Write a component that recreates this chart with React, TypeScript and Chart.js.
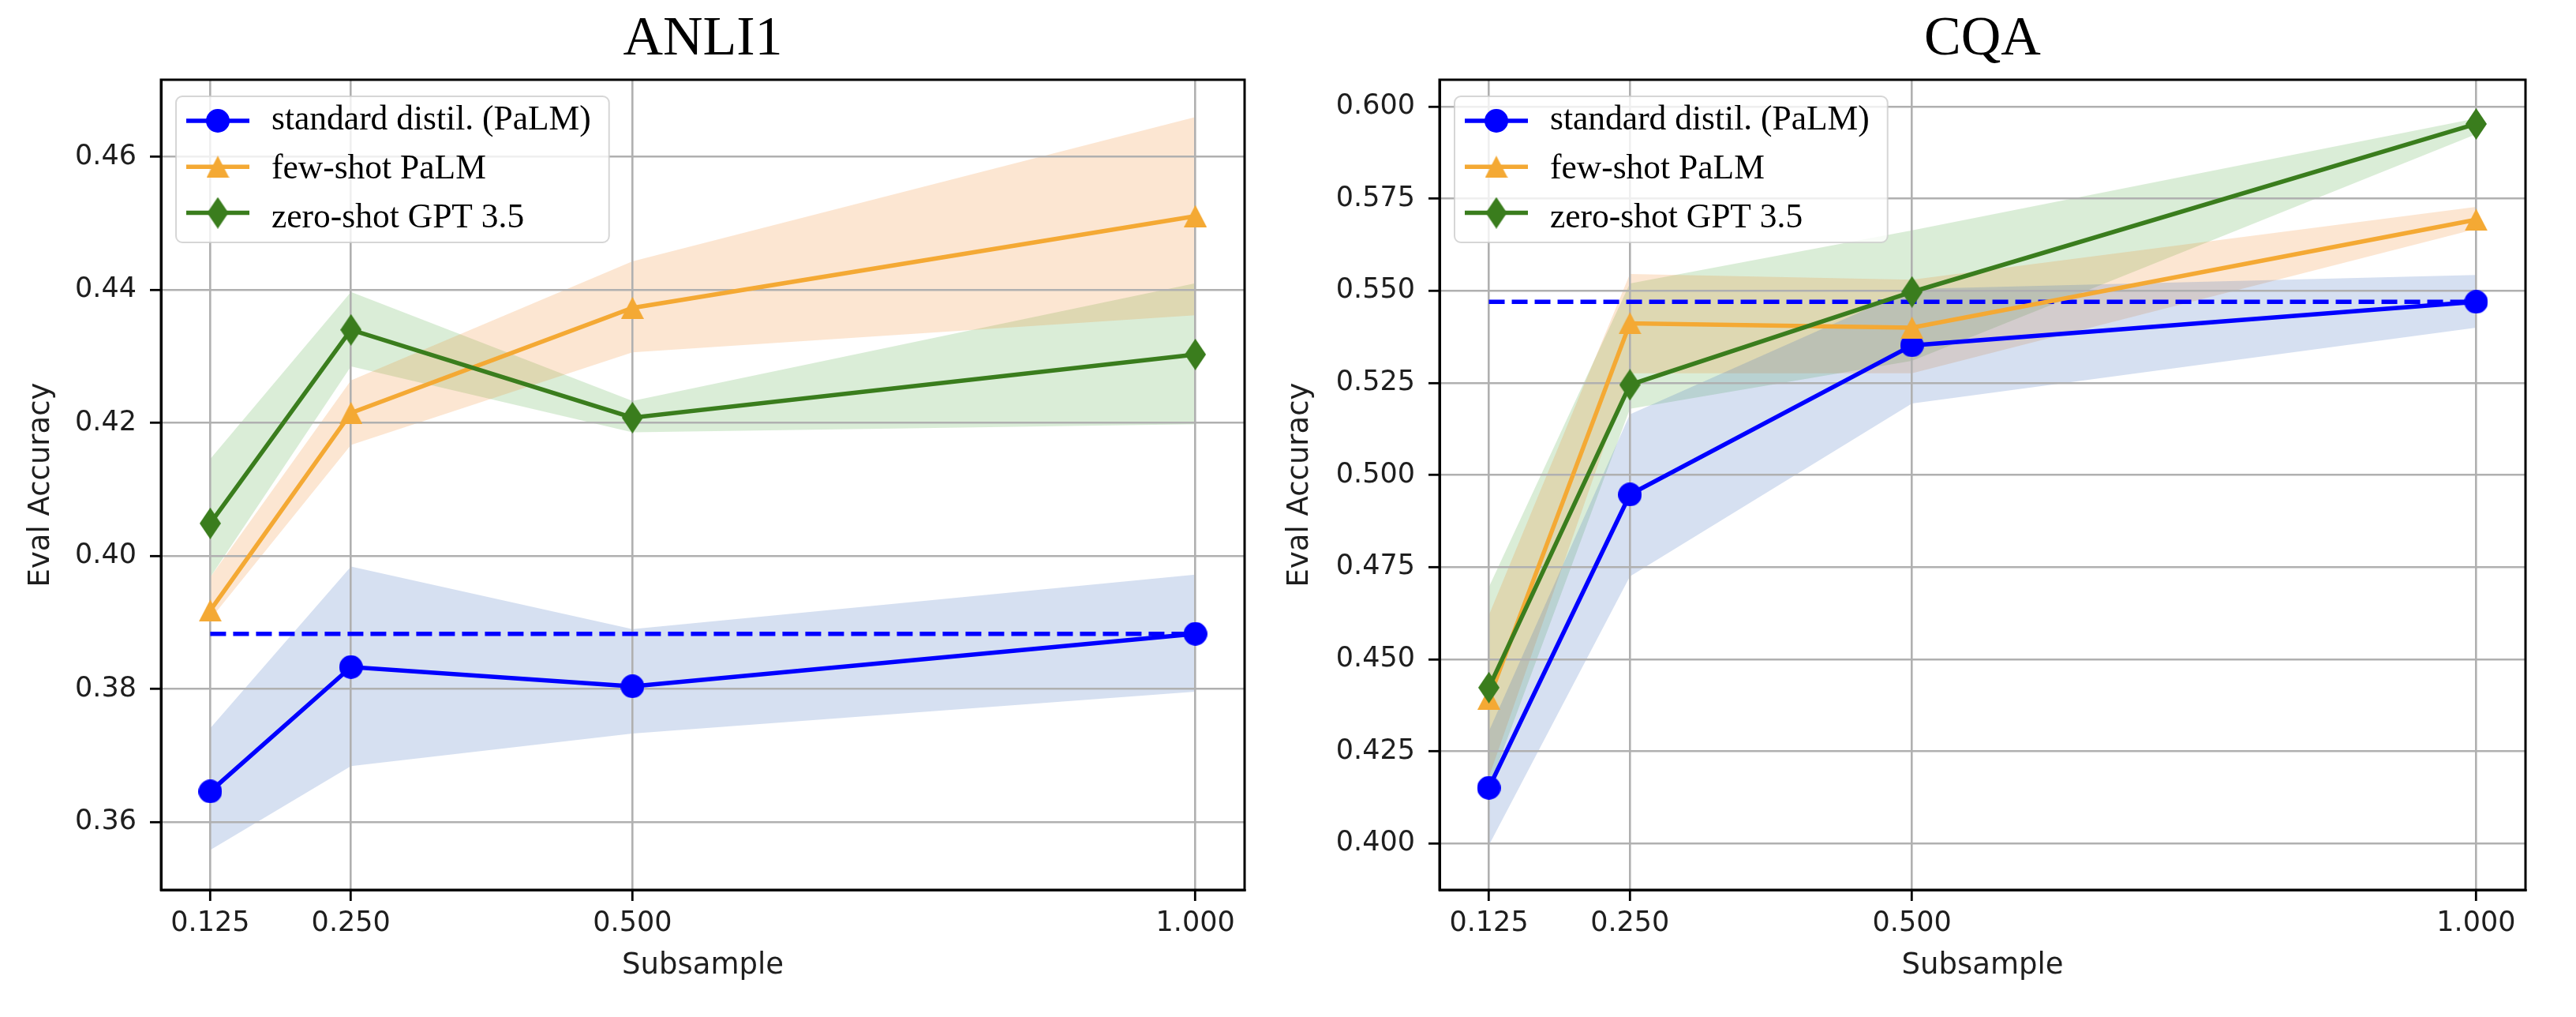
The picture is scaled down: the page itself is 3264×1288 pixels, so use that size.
import React, { useEffect, useRef } from 'react';
import { Chart, registerables } from 'chart.js';

Chart.register(...registerables);

// x positions shared by both panels
const subsample = [0.125, 0.25, 0.5, 1.0];
const xTicks = [0.125, 0.25, 0.5, 1.0];

// ANLI1
const anliStandard = [0.3646, 0.3833, 0.3804, 0.3883];
const anliStandardLo = [0.3558, 0.3684, 0.3733, 0.3796];
const anliStandardHi = [0.3741, 0.3984, 0.389, 0.3972];
const anliFewShot = [0.3918, 0.4215, 0.4373, 0.4511];
const anliFewShotLo = [0.3905, 0.4167, 0.4306, 0.4362];
const anliFewShotHi = [0.3968, 0.4264, 0.4443, 0.466];
const anliZeroShot = [0.4049, 0.434, 0.4208, 0.4303];
const anliZeroShotLo = [0.3968, 0.4285, 0.4186, 0.4198];
const anliZeroShotHi = [0.4146, 0.4397, 0.4233, 0.441];
const anliReference = 0.3883;
const anliYTicks = [0.36, 0.38, 0.4, 0.42, 0.44, 0.46];

// CQA
const cqaStandard = [0.4151, 0.4947, 0.5352, 0.547];
const cqaStandardLo = [0.3995, 0.4725, 0.5194, 0.54];
const cqaStandardHi = [0.4305, 0.5165, 0.5505, 0.5543];
const cqaFewShot = [0.4393, 0.5412, 0.54, 0.5693];
const cqaFewShotLo = [0.418, 0.5276, 0.5276, 0.5668];
const cqaFewShotHi = [0.462, 0.5546, 0.553, 0.5728];
const cqaZeroShot = [0.4423, 0.5245, 0.5497, 0.5953];
const cqaZeroShotLo = [0.415, 0.518, 0.531, 0.5925];
const cqaZeroShotHi = [0.4696, 0.552, 0.5664, 0.5968];
const cqaReference = 0.547;
const cqaYTicks = [0.4, 0.425, 0.45, 0.475, 0.5, 0.525, 0.55, 0.575, 0.6];

const labels = ['standard distil. (PaLM)', 'few-shot PaLM', 'zero-shot GPT 3.5'];

const BLUE = '#0000ff';
const ORANGE = '#f4a934';
const GREEN = '#3a7d1d';
const TEXT = '#1e1e1e';
const LINE_W = 5.5;

function makeMarker(kind: string, color: string) {
   const c = document.createElement('canvas');
   const w = kind === 'circle' ? 30 : kind === 'triangle' ? 29 : 27;
   const h = kind === 'circle' ? 30 : kind === 'triangle' ? 28 : 40;
   c.width = w;
   c.height = h;
   const g = c.getContext('2d')!;
   g.fillStyle = color;
   g.beginPath();
   if (kind === 'circle') {
      g.arc(w / 2, h / 2, w / 2, 0, Math.PI * 2);
   } else if (kind === 'triangle') {
      g.moveTo(w / 2, 0);
      g.lineTo(w, h);
      g.lineTo(0, h);
   } else {
      g.moveTo(w / 2, 0);
      g.lineTo(w, h / 2);
      g.lineTo(w / 2, h);
      g.lineTo(0, h / 2);
   }
   g.closePath();
   g.fill();
   return c;
}

const circleImg = makeMarker('circle', BLUE);
const triangleImg = makeMarker('triangle', ORANGE);
const diamondImg = makeMarker('diamond', GREEN);

const pts = (ys: number[]) => subsample.map((x, i) => ({ x, y: ys[i] }));

// spines on all four sides + matplotlib-like legend inside the axes
const frameLegend = {
   id: 'frameLegend',
   afterDatasetsDraw(chart: any) {
      const { ctx, chartArea: ca } = chart;
      ctx.save();
      ctx.strokeStyle = '#000';
      ctx.lineWidth = 3;
      ctx.setLineDash([]);
      ctx.strokeRect(ca.left, ca.top, ca.right - ca.left, ca.bottom - ca.top);

      const entries = chart.data.datasets.filter((d: any) => d.inLegend);
      ctx.font = '43.5px "Liberation Serif"';
      const textW = Math.max(...entries.map((e: any) => ctx.measureText(e.label).width));
      const bx = ca.left + 19;
      const by = ca.top + 21;
      const bw = 121 + textW + 23;
      const bh = 185;
      ctx.beginPath();
      ctx.roundRect(bx, by, bw, bh, 8);
      ctx.fillStyle = 'rgba(255,255,255,0.8)';
      ctx.fill();
      ctx.strokeStyle = 'rgba(204,204,204,0.8)';
      ctx.lineWidth = 2;
      ctx.stroke();

      entries.forEach((e: any, i: number) => {
         const ry = by + 31 + i * 58.3;
         ctx.strokeStyle = e.borderColor;
         ctx.lineWidth = LINE_W;
         ctx.beginPath();
         ctx.moveTo(bx + 13, ry);
         ctx.lineTo(bx + 93, ry);
         ctx.stroke();
         const img = e.pointStyle;
         ctx.drawImage(img, bx + 53 - img.width / 2, ry - img.height / 2);
         ctx.fillStyle = '#000';
         ctx.textAlign = 'left';
         ctx.textBaseline = 'alphabetic';
         ctx.fillText(e.label, bx + 121, by + 42 + i * 62);
      });
      ctx.restore();
   },
};

interface Panel {
   title: string;
   yMin: number;
   yMax: number;
   yTicks: number[];
   decimals: number;
   series: number[][];
   reference: number;
   axisWidth: number;
   rightPad: number;
   yTitlePad: number;
}

const panels: Panel[] = [
   {
      title: 'ANLI1',
      yMin: 0.3498,
      yMax: 0.4716,
      yTicks: anliYTicks,
      decimals: 2,
      series: [
         anliStandard, anliStandardLo, anliStandardHi,
         anliFewShot, anliFewShotLo, anliFewShotHi,
         anliZeroShot, anliZeroShotLo, anliZeroShotHi,
      ],
      reference: anliReference,
      axisWidth: 204,
      rightPad: 23,
      yTitlePad: 30,
   },
   {
      title: 'CQA',
      yMin: 0.3874,
      yMax: 0.6073,
      yTicks: cqaYTicks,
      decimals: 3,
      series: [
         cqaStandard, cqaStandardLo, cqaStandardHi,
         cqaFewShot, cqaFewShotLo, cqaFewShotHi,
         cqaZeroShot, cqaZeroShotLo, cqaZeroShotHi,
      ],
      reference: cqaReference,
      axisWidth: 224,
      rightPad: 64,
      yTitlePad: 25,
   },
];

function buildConfig(p: Panel): any {
   const s = p.series;
   const bandLo = (ys: number[]) => ({
      data: pts(ys), borderColor: 'transparent', borderWidth: 1, pointRadius: 0, fill: false, order: 10,
   });
   // fill down to the dataset just before (the lower bound)
   const bandHi = (ys: number[], color: string) => ({
      data: pts(ys), borderColor: 'transparent', borderWidth: 1, pointRadius: 0,
      fill: '-1', backgroundColor: color, order: 10,
   });
   const line = (label: string, ys: number[], color: string, img: any, order: number) => ({
      label, data: pts(ys), borderColor: color, backgroundColor: color, borderWidth: LINE_W,
      pointStyle: img, pointRadius: 15, pointHoverRadius: 15, fill: false, tension: 0, order, inLegend: true,
   });

   const tickFont = { family: '"DejaVu Sans"', size: 35 };
   const labelFont = { family: '"DejaVu Sans"', size: 37 };
   const grid = { color: '#b0b0b0', lineWidth: 2.6, tickColor: '#000', tickWidth: 2.8, tickLength: 14, drawTicks: true };
   const border = { color: '#000', width: 3 };

   return {
      type: 'line',
      data: {
         datasets: [
            {
               data: [{ x: 0.125, y: p.reference }, { x: 1.0, y: p.reference }],
               borderColor: BLUE, borderWidth: LINE_W, borderDash: [20, 9], pointRadius: 0, fill: false, order: 4,
            },
            bandLo(s[1]),
            bandHi(s[2], 'rgba(60,110,190,0.21)'),
            bandLo(s[4]),
            bandHi(s[5], 'rgba(238,128,30,0.2)'),
            bandLo(s[7]),
            bandHi(s[8], 'rgba(60,160,44,0.19)'),
            line(labels[0], s[0], BLUE, circleImg, 3),
            line(labels[1], s[3], ORANGE, triangleImg, 2),
            line(labels[2], s[6], GREEN, diamondImg, 1),
         ],
      },
      options: {
         animation: false,
         responsive: false,
         maintainAspectRatio: false,
         layout: { padding: { left: 0, right: p.rightPad, top: 0, bottom: 0 } },
         plugins: {
            legend: { display: false },
            tooltip: { enabled: false },
            filler: { drawTime: 'beforeDraw' },
            title: {
               display: true,
               text: p.title,
               fullSize: false,
               color: '#000',
               font: { family: '"Liberation Serif"', size: 70, weight: 'normal' },
               padding: { top: 9, bottom: 8 },
            },
         },
         scales: {
            x: {
               type: 'linear',
               bounds: 'data',
               min: 0.08125,
               max: 1.04375,
               afterBuildTicks: (sc: any) => {
                  sc.ticks = xTicks.map((v) => ({ value: v }));
               },
               afterFit: (sc: any) => {
                  sc.height = 161;
                  sc.paddingLeft = 0;
                  sc.paddingRight = 0;
               },
               ticks: {
                  callback: (v: any) => Number(v).toFixed(3),
                  font: tickFont, color: TEXT, padding: 8, maxRotation: 0, autoSkip: false,
               },
               grid,
               border,
               title: { display: true, text: 'Subsample', font: labelFont, color: TEXT, padding: { top: 0, bottom: 42 } },
            },
            y: {
               type: 'linear',
               bounds: 'data',
               min: p.yMin,
               max: p.yMax,
               afterBuildTicks: (sc: any) => {
                  sc.ticks = p.yTicks.map((v) => ({ value: v }));
               },
               afterFit: (sc: any) => {
                  sc.width = p.axisWidth;
                  sc.paddingTop = 0;
                  sc.paddingBottom = 0;
               },
               ticks: {
                  callback: (v: any) => Number(v).toFixed(p.decimals),
                  font: tickFont, color: TEXT, padding: 17, autoSkip: false,
               },
               grid,
               border,
               title: { display: true, text: 'Eval Accuracy', font: labelFont, color: TEXT, padding: { top: p.yTitlePad, bottom: 0 } },
            },
         },
      },
      plugins: [frameLegend],
   };
}

const PanelChart = ({ panel, left, width }: { panel: Panel; left: number; width: number }) => {
   const canvasRef = useRef<HTMLCanvasElement | null>(null);

   useEffect(() => {
      if (!canvasRef.current) return;
      const chart = new Chart(canvasRef.current, buildConfig(panel));
      return () => {
         chart.destroy();
      };
   }, [panel]);

   return (
      <canvas
         ref={canvasRef}
         width={width}
         height={1288}
         style={{ position: 'absolute', left, top: 0, width, height: 1288 }}
      />
   );
};

const App = () => {
   return (
      <div style={{ position: 'absolute', left: 0, top: 0, width: 3264, height: 1288, background: '#fff' }}>
         <PanelChart panel={panels[0]} left={0} width={1600} />
         <PanelChart panel={panels[1]} left={1600} width={1664} />
      </div>
   );
};

export default App;
